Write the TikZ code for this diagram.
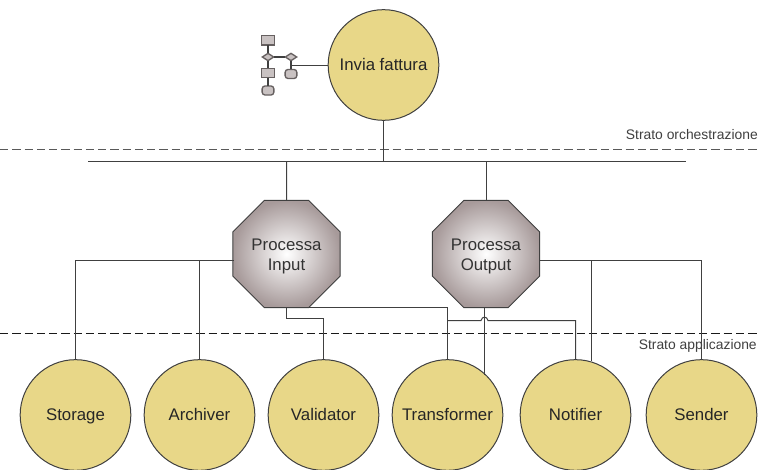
\documentclass[tikz,border=0pt]{standalone}
\usepackage{fontspec}
\setmainfont{Liberation Sans}
\usetikzlibrary{shapes.geometric}
\definecolor{svc}{HTML}{E8D788}
\definecolor{edgec}{HTML}{404040}
\definecolor{octo}{HTML}{A79A9A}
\definecolor{iconf}{HTML}{C9C2C2}
\definecolor{icone}{HTML}{666060}
\tikzset{
  x=0.75pt,y=-0.75pt,
  conn/.style={draw=edgec,line width=0.75pt},
  svcnode/.style={circle,draw=edgec,line width=0.75pt,fill=svc,minimum size=83pt,inner sep=0pt,outer sep=0pt,font=\fontsize{12.6pt}{15pt}\selectfont,text=black!85,text height=11pt,text depth=2.6pt},
  octnode/.style={regular polygon,regular polygon sides=8,draw=edgec,line width=0.75pt,
     inner color=white,outer color=octo,minimum size=87pt,inner sep=0pt,outer sep=0pt,align=center,
     font=\fontsize{12.6pt}{15pt}\selectfont,text=black!80},
  layer/.style={font=\fontsize{10.4pt}{12pt}\selectfont,text=black!75,inner sep=0pt,anchor=east},
  sep/.style={line width=0.75pt,dash pattern=on 6.2pt off 3pt},
  ibox/.style={draw=icone,line width=1pt,fill=iconf,minimum width=9.5pt,minimum height=7pt,inner sep=0pt,outer sep=0pt},
  iround/.style={draw=icone,line width=1pt,fill=iconf,rounded corners=2.2pt,minimum width=8.8pt,minimum height=6.8pt,inner sep=0pt,outer sep=0pt},
  idia/.style={diamond,draw=icone,line width=1pt,fill=iconf,minimum width=8.5pt,minimum height=5.5pt,inner sep=0pt,outer sep=0pt},
  iline/.style={draw=edgec,line width=0.9pt},
}
\begin{document}
\begin{tikzpicture}
\clip (0,0) rectangle (760,470);
\fill[white] (0,0) rectangle (760,470);

% separators
\coordinate (s1a) at (0,149.5); \coordinate (s1b) at (760,149.5);
\coordinate (s2a) at (0,333.5); \coordinate (s2b) at (760,333.5);
\draw[sep,draw=black!65,line width=0.9pt] (s1a) -- (s1b);
\draw[sep,draw=black!90] (s2a) -- (s2b);
\node[layer] (l1) at (758,135) {Strato orchestrazione};
\node[layer] (l2) at (757,346) {Strato applicazione};

% bus
\coordinate (busl) at (88,161.5); \coordinate (busr) at (686,161.5);
\coordinate (bus1) at (383.5,161.5); \coordinate (bus2) at (286.5,161.5); \coordinate (bus3) at (486.5,161.5);

% nodes
\node[svcnode] (inv) at (383.5,65) {Invia fattura};
\node[octnode] (pi) at (286.5,254) {\rule{0pt}{12pt}Processa\\Input};
\node[octnode] (po) at (486,254) {\rule{0pt}{12pt}Processa\\Output};
\node[svcnode] (sto) at (75.5,415) {Storage};
\node[svcnode] (arc) at (199.5,415) {Archiver};
\node[svcnode] (val) at (323.5,415) {Validator};
\node[svcnode] (tra) at (447.5,415) {Transformer};
\node[svcnode] (not) at (575.5,415) {Notifier};
\node[svcnode] (sen) at (701.5,415) {Sender};

% bus connectors
\draw[conn] (busl) -- (busr);
\draw[conn] (inv.south) -- (bus1);
\draw[conn] (bus2) -- (pi.north);
\draw[conn] (bus3) -- (bus3 |- po.north);

% Processa Input connectors
\coordinate (piw) at (233.5,260.5);
\coordinate (pis) at (286.5,307.5);
\coordinate (pise) at (309,307.5);
\coordinate (poe) at (539.5,260.5);
\coordinate (bj) at (447.5,320.5);
\coordinate (pob) at (484.5,307.5);
\draw[conn] (piw) -| (sto.north);
\draw[conn] (arc.north) -- (arc.north |- piw);
\draw[conn] (pis) -- (286.5,318.5) -| (val.north);
\draw[conn] (pise) -| (tra.north);

% Processa Output connectors
\draw[conn] (pob) -- (pob |- tra.47);
\draw[conn] (poe) -| (sen.north);
\coordinate (nt) at (591.5,260.5);
\draw[conn] (nt) -- (591.5,360.5);
\draw[conn] (bj) -- (481,320.5) .. controls (482,316) and (487,316) .. (488,320.5) -| (not.north);

% process icon
\node[ibox] (i1) at (268,40.5) {};
\node[idia] (i2) at (268,57) {};
\node[idia] (i3) at (291,57) {};
\node[ibox] (i4) at (268,73) {};
\node[iround] (i5) at (268,90.5) {};
\node[iround] (i6) at (291,74) {};
\draw[iline] (i1) -- (i2);
\draw[iline] (i2) -- (i4);
\draw[iline] (i4) -- (i5);
\draw[iline] (i2) -- (i3);
\draw[iline] (i3) -- (i6);
\coordinate (ij) at (291,65.5);
\draw[conn] (ij) -- (inv.west |- ij);
\end{tikzpicture}
\end{document}
